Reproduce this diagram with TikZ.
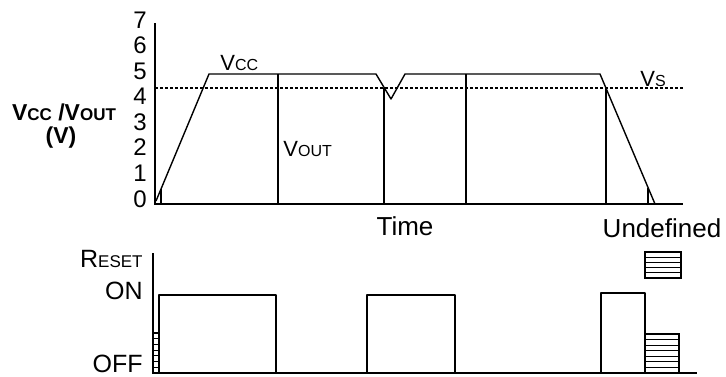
\documentclass[tikz,border=0pt]{standalone}
\usepackage{fontspec}
\setmainfont{Liberation Sans}
\usepackage{tikz}
\definecolor{lineA}{RGB}{0, 0, 0}
\newcommand{\lowcap}[1]{{\fontsize{8}{9}\selectfont #1}}
\newcommand{\boldcap}[1]{{\fontsize{8.5}{9}\selectfont #1}}

\begin{document}
\begin{tikzpicture}[x=0.5pt, y=-0.5pt,
    axis/.style={draw=lineA, line width=0.8pt},
    trace/.style={draw=lineA, line width=0.7pt, line join=round},
    limit/.style={draw=lineA, line width=0.6pt, dash pattern=on 1.5pt off 1pt},
    tick/.style={font=\fontsize{12}{13}\selectfont, inner sep=0pt},
    hatchbox/.style={draw=lineA, line width=0.6pt}]
  \useasboundingbox (0,0) rectangle (726,376);

  % upper panel: V_CC and V_OUT
  \coordinate (O1) at (155,204);
  \coordinate (T1) at (155,23);
  \coordinate (E1) at (683,204);

  \coordinate (A) at (156,201);
  \coordinate (B) at (209,74);
  \coordinate (C) at (376,74);
  \coordinate (D) at (391,99);
  \coordinate (E) at (405,74);
  \coordinate (F) at (600,74);
  \coordinate (G) at (655,204);

  \path[axis] (T1) -- (O1) -- (E1);
  \path[limit] (155,88) coordinate (S0) -- (683,88) coordinate (S1);
  \path[trace] (A) -- (B) -- (C) -- (D) -- (E) -- (F) -- (G);

  \path[trace] (161,189) -- (161,204) -- (278,204) -- (278,74);
  \path[trace] (384,88) -- (384,204) -- (466,204) -- (466,74);
  \path[trace] (606,88) -- (606,204) -- (648,204) -- (648,188);

  \node[tick, anchor=east] (y7) at (147,20)    {7};
  \node[tick, anchor=east] (y6) at (147,45.5)  {6};
  \node[tick, anchor=east] (y5) at (147,71)    {5};
  \node[tick, anchor=east] (y4) at (147,96.5)  {4};
  \node[tick, anchor=east] (y3) at (147,122)   {3};
  \node[tick, anchor=east] (y2) at (147,147.5) {2};
  \node[tick, anchor=east] (y1) at (147,173)   {1};
  \node[tick, anchor=east] (y0) at (147,199)   {0};

  \node[inner sep=0pt, anchor=base] (ylab) at (64,120)
    {\fontsize{11.5}{12}\selectfont\bfseries V\boldcap{CC} /V\boldcap{OUT}};
  \node[inner sep=0pt, anchor=base] (yunit) at (61,143)
    {\fontsize{11.5}{12}\selectfont\bfseries (V)};

  \node[inner sep=0pt, anchor=base west] (vcc)  at (220,70)
    {\fontsize{11}{12}\selectfont V\lowcap{CC}};
  \node[inner sep=0pt, anchor=base west] (vout) at (283,156)
    {\fontsize{11}{12}\selectfont V\lowcap{OUT}};
  \node[inner sep=0pt, anchor=base west] (vs)   at (640,86)
    {\fontsize{11}{12}\selectfont V\lowcap{S}};
  \node[inner sep=0pt, anchor=base] (time) at (405,235)
    {\fontsize{13}{14}\selectfont Time};

  % lower panel: RESET
  \coordinate (O2) at (153,373);
  \coordinate (T2) at (153,253);
  \coordinate (E2) at (697,373);

  \path[axis] (T2) -- (O2) -- (E2);
  \path[trace] (159,373) -- (159,295) -- (276,295) -- (276,373);
  \path[trace] (367,373) -- (367,295) -- (455,295) -- (455,373);
  \path[trace] (601,373) -- (601,293) -- (645,293) -- (645,373);

  \path[hatchbox] (153,333) rectangle (159,373);
  \foreach \k in {1,...,6}
    \path[hatchbox] (153,333+\k*40/7) -- (159,333+\k*40/7);
  \path[hatchbox] (645,334) rectangle (679,373);
  \foreach \k in {1,...,6}
    \path[hatchbox] (645,334+\k*39/7) -- (679,334+\k*39/7);
  \path[hatchbox] (645,252) rectangle (681,278);
  \foreach \k in {1,...,4}
    \path[hatchbox] (645,252+\k*26/5) -- (681,252+\k*26/5);

  \node[inner sep=0pt, anchor=base east] (reset) at (143,267)
    {\fontsize{12.5}{13}\selectfont R{\fontsize{8.5}{9}\selectfont ESET}};
  \node[inner sep=0pt, anchor=base east] (on)  at (143,299)
    {\fontsize{12.5}{13}\selectfont ON};
  \node[inner sep=0pt, anchor=base east] (off) at (143,372)
    {\fontsize{12.5}{13}\selectfont OFF};
  \node[inner sep=0pt, anchor=base] (undef) at (662,237)
    {\fontsize{13}{14}\selectfont Undefined};
\end{tikzpicture}
\end{document}
